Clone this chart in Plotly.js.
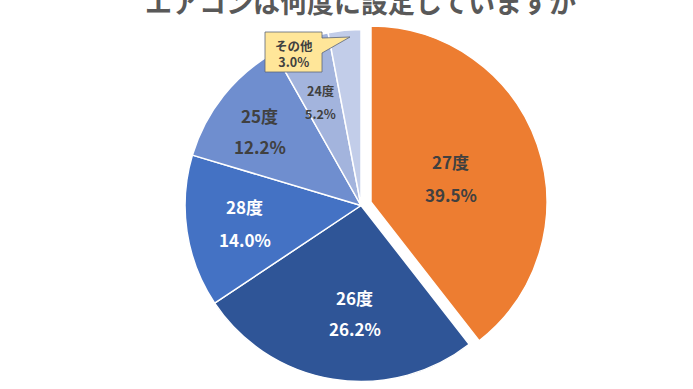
<!DOCTYPE html>
<html>
<head>
<meta charset="utf-8">
<script src="https://cdn.plot.ly/plotly-3.0.1.min.js"></script>
<style>
html,body{margin:0;padding:0;overflow:hidden;background:#fff;}
#chart{width:693px;height:392px;}
</style>
</head>
<body>
<div id="chart"></div>
<script>
// ---- data ----
var chartTitle = 'エアコンは何度に設定していますか';
var categories = ['27度', '26度', '28度', '25度', '24度', 'その他'];
var shares = [39.5, 26.2, 14.0, 12.2, 5.2, 3.0];

// ---- styles / layout ----
var sliceColors = ['#ED7D31', '#2F5597', '#4472C4', '#6F8ECF', '#A3B4DD', '#C2CDE9'];
var labelColors = ['#404040', '#FFFFFF', '#FFFFFF', '#404040', '#404040'];
var labelSizes = [17, 17, 17, 17, 12.5];
var labelGap = [16.5, 15.5, 16.3, 15.5, 11.7];
var labelRadius = [0.474, 0.611, 0.667, 0.715, 0.631];
var labelAngleShift = [2.5, -5.9, 0, -2.3, -1];
var pulls = [0.06, 0, 0, 0, 0, 0];
var FONT = '"Noto Sans CJK JP", "Noto Sans", sans-serif';

var W = 693, H = 392;
var M = {l: 29, r: 0, t: 19, b: 0};
var gw = W - M.l - M.r, gh = H - M.t - M.b;
var maxPull = Math.max.apply(null, pulls);
var R = Math.min(gw, gh) / 2 / (1 + maxPull);
var CX = M.l + gw / 2, CY = M.t + gh / 2;
function px2x(px) { return (px - M.l) / gw; }
function px2y(py) { return 1 - (py - M.t) / gh; }

var total = shares.reduce(function (a, b) { return a + b; }, 0);
var annotations = [];
var cum = 0;
shares.forEach(function (v, i) {
  var a0 = cum / total * 360, a1 = (cum + v) / total * 360;
  cum += v;
  if (i >= labelRadius.length) return;
  var mid = (a0 + a1) / 2;
  var rad = mid * Math.PI / 180;
  var cx = CX + pulls[i] * R * Math.sin(rad);
  var cy = CY - pulls[i] * R * Math.cos(rad);
  var la = (mid + labelAngleShift[i]) * Math.PI / 180;
  var lx = cx + labelRadius[i] * R * Math.sin(la);
  var ly = cy - labelRadius[i] * R * Math.cos(la);
  var f = {family: FONT, size: labelSizes[i], color: labelColors[i], weight: 'bold'};
  annotations.push({xref: 'paper', yref: 'paper', x: px2x(lx), y: px2y(ly), yshift: labelGap[i],
    text: categories[i], showarrow: false, font: f, xanchor: 'center', yanchor: 'middle'});
  annotations.push({xref: 'paper', yref: 'paper', x: px2x(lx), y: px2y(ly), yshift: -labelGap[i],
    text: v.toFixed(1) + '%', showarrow: false, font: f, xanchor: 'center', yanchor: 'middle'});
});

// callout for the last (smallest) slice
var last = categories.length - 1;
var box = {x0: 265, x1: 322, y0: 32, y1: 72};
var tip = {x: 350, y: 37};
var calloutPath = 'M' + px2x(box.x0) + ',' + px2y(box.y0) +
  ' L' + px2x(box.x1) + ',' + px2y(box.y0) +
  ' L' + px2x(box.x1) + ',' + px2y(38) +
  ' L' + px2x(tip.x) + ',' + px2y(tip.y) +
  ' L' + px2x(box.x1) + ',' + px2y(53) +
  ' L' + px2x(box.x1) + ',' + px2y(box.y1) +
  ' L' + px2x(box.x0) + ',' + px2y(box.y1) + ' Z';
var cf = {family: FONT, size: 12.5, color: '#404040', weight: 'bold'};
annotations.push({xref: 'paper', yref: 'paper', x: px2x((box.x0 + box.x1) / 2), y: px2y(53.5),
  text: categories[last] + '<br>' + shares[last].toFixed(1) + '%', showarrow: false, font: cf,
  xanchor: 'center', yanchor: 'middle', align: 'center'});

var trace = {
  type: 'pie',
  labels: categories,
  values: shares,
  sort: false,
  direction: 'clockwise',
  rotation: 0,
  pull: pulls,
  marker: {colors: sliceColors, line: {color: '#FFFFFF', width: 1.5}},
  textinfo: 'none',
  hoverinfo: 'none'
};

var layout = {
  width: W, height: H,
  margin: M,
  showlegend: false,
  paper_bgcolor: '#FFFFFF',
  title: {
    text: '<b>' + chartTitle + '</b>',
    xref: 'container', yref: 'container',
    x: 360.5 / W, y: 1 - 13 / H,
    xanchor: 'center', yanchor: 'bottom',
    font: {family: FONT, size: 27, color: '#595959'}
  },
  shapes: [{
    type: 'path', xref: 'paper', yref: 'paper', layer: 'above',
    path: calloutPath,
    fillcolor: '#FFE699',
    line: {color: '#5B6478', width: 0.8}
  }],
  annotations: annotations
};

Plotly.newPlot('chart', [trace], layout, {displayModeBar: false, staticPlot: true});
</script>
</body>
</html>
